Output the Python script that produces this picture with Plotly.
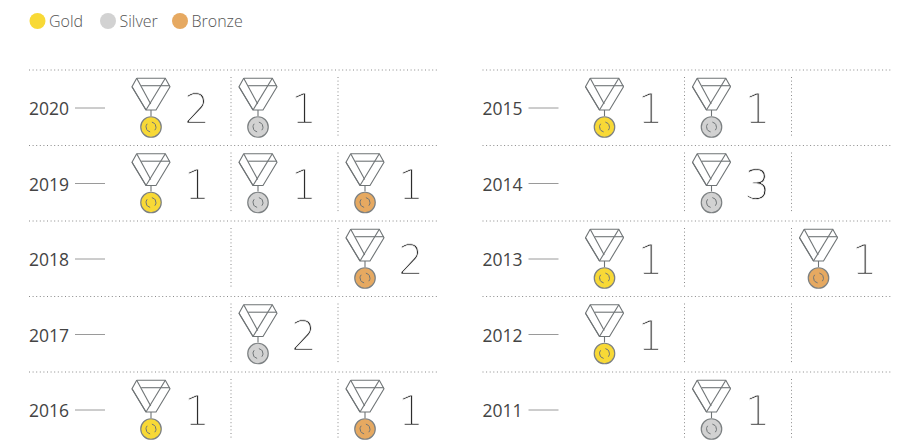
import numpy as np
import plotly.graph_objects as go

years_left = ["2020", "2019", "2018", "2017", "2016"]
gold_left = [2, 1, 0, 0, 1]
silver_left = [1, 1, 0, 2, 0]
bronze_left = [0, 1, 2, 0, 1]

years_right = ["2015", "2014", "2013", "2012", "2011"]
gold_right = [1, 0, 1, 1, 0]
silver_right = [1, 3, 0, 0, 1]
bronze_right = [0, 0, 1, 0, 0]

legend_names = ["Gold", "Silver", "Bronze"]

COLORS = {"Gold": "#F8D936", "Silver": "#D2D2D2", "Bronze": "#E6A961"}
W, H = 909, 442
ROW0, ROW_H = 70, 75.5
PANEL_X = [0, 453.5]
COL_CX = [151, 258, 365]
INK = "#6F7476"
FONT = "Open Sans"

fig = go.Figure()
shapes = []


def dotted(x0, y0, x1, y1):
    shapes.append(dict(type="line", x0=x0, y0=y0, x1=x1, y1=y1, xref="x", yref="y",
                       layer="below",
                       line=dict(color="#8A8A8A", width=1, dash="1px,2.6px")))


# ribbon outline relative to medal axis x and row top y
RIBBON = [
    [(-14.3, 8.3), (14.3, 8.3), (19, 16.7), (5, 40), (-5, 40), (-19, 16.7), (-14.3, 8.3)],
    [(-14.3, 8.3), (-0.3, 34)],
    [(-19, 16.7), (-5, 40)],
    [(-9.8, 15.7), (19, 15.7)],
    [(14.3, 8.3), (9.8, 15.7), (-5, 40)],
    [(0, 40), (0, 46)],
]


def medal(cx, top, color):
    xs, ys = [], []
    for seg in RIBBON:
        for a, b in seg:
            xs.append(cx + a)
            ys.append(top + b)
        xs.append(None)
        ys.append(None)
    fig.add_trace(go.Scatter(x=xs, y=ys, mode="lines", hoverinfo="skip",
                             line=dict(color=INK, width=1.1)))
    cy = top + 57
    fig.add_trace(go.Scatter(x=[cx], y=[cy], mode="markers", hoverinfo="skip",
                             marker=dict(size=20.5, color=color, line=dict(color="#7C8082", width=1.2))))
    ax, ay = [], []
    for a0, a1 in [(100, 220), (280, 400)]:
        t = np.radians(np.arange(a0, a1 + 1, 12))
        ax += list(cx + 5 * np.cos(t)) + [None]
        ay += list(cy + 5 * np.sin(t)) + [None]
    fig.add_trace(go.Scatter(x=ax, y=ay, mode="lines", hoverinfo="skip",
                             line=dict(color=INK, width=1)))


for off, years, series in [
    (PANEL_X[0], years_left, [gold_left, silver_left, bronze_left]),
    (PANEL_X[1], years_right, [gold_right, silver_right, bronze_right]),
]:
    dotted(29 + off, ROW0, 438 + off, ROW0)
    for r, year in enumerate(years):
        top = ROW0 + r * ROW_H
        if r:
            dotted(29 + off, top, 438 + off, top)
        dotted(231 + off, top + 7, 231 + off, top + 68)
        dotted(338 + off, top + 7, 338 + off, top + 68)
        fig.add_trace(go.Scatter(x=[29 + off], y=[top + 41], mode="text", text=[year],
                                 textposition="middle right", hoverinfo="skip",
                                 textfont=dict(family=FONT, size=17.5, color="#444444")))
        fig.add_trace(go.Scatter(x=[75 + off, 105 + off], y=[top + 38, top + 38], mode="lines",
                                 hoverinfo="skip", line=dict(color="#9A9A9A", width=1)))
        for c, name in enumerate(legend_names):
            v = series[c][r]
            if v:
                medal(COL_CX[c] + off, top, COLORS[name])
                fig.add_trace(go.Scatter(x=[COL_CX[c] + off + 46], y=[top + 43], mode="text",
                                         text=[str(v)], textposition="middle center", hoverinfo="skip",
                                         textfont=dict(family="DejaVu Sans", size=40,
                                                       color="#222222", weight=200)))

for name, x in zip(legend_names, [37.5, 108, 180]):
    fig.add_trace(go.Scatter(x=[x], y=[21], mode="markers", hoverinfo="skip",
                             marker=dict(size=16, color=COLORS[name])))
    fig.add_trace(go.Scatter(x=[x + 11.5], y=[23], mode="text", text=[name],
                             textposition="middle right", hoverinfo="skip",
                             textfont=dict(family=FONT, size=16, color="#555555", weight=300)))

fig.update_layout(
    width=W, height=H, showlegend=False, shapes=shapes,
    margin=dict(l=0, r=0, t=0, b=0), paper_bgcolor="white", plot_bgcolor="white",
    xaxis=dict(range=[0, W], visible=False, fixedrange=True),
    yaxis=dict(range=[H, 0], visible=False, fixedrange=True),
)
THIN_DIGITS = """
document.body.style.margin='0';document.body.style.overflow='hidden';
document.querySelectorAll('.textpoint text').forEach(function(t){
  if (parseFloat(t.style.fontSize) === 40) {
    t.style.stroke = '#ffffff'; t.style.strokeWidth = '0.75px'; t.style.opacity = '0.98';
    t.style.willChange = 'opacity';
  }
});
"""
fig.write_html("out.html", config={"displayModeBar": False}, post_script=THIN_DIGITS)
